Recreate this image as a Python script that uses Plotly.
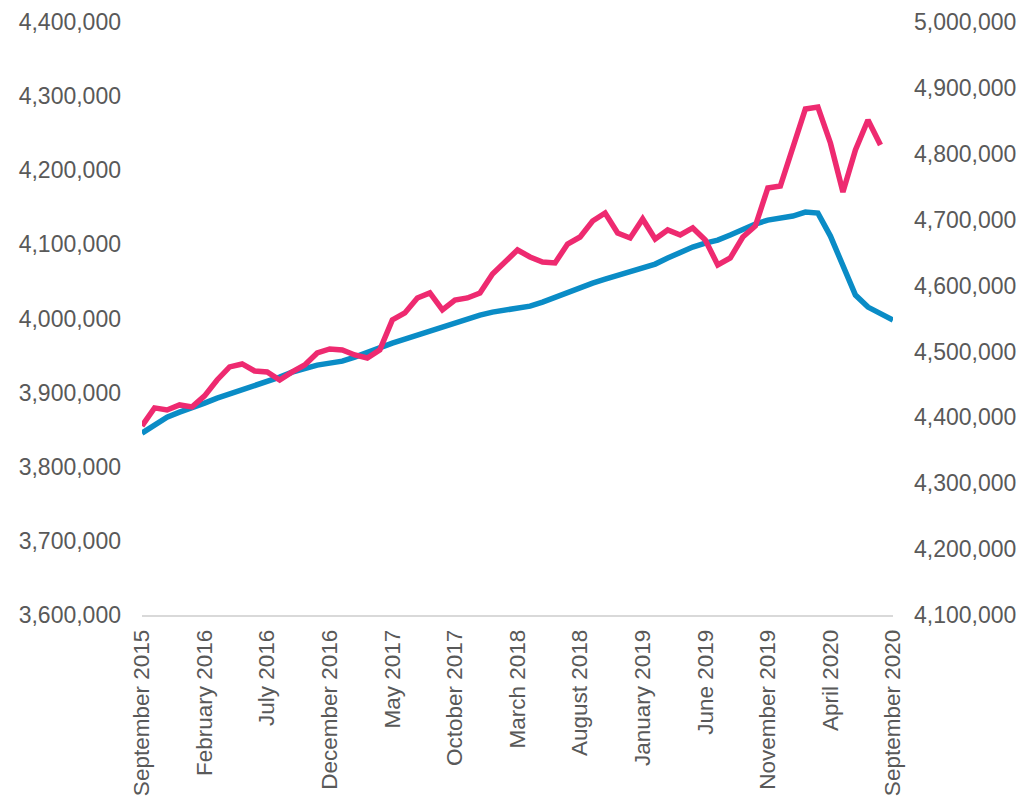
import pandas as pd
import plotly.graph_objects as go

# Monthly categories, September 2015 to September 2020
months = [d.strftime("%B %Y") for d in pd.date_range("2015-09-01", "2020-09-01", freq="MS")]
tick_labels = months[::5]

# Series plotted on the left axis (blue), one value per month
blue_values = [
    3845350, 3856150, 3866950, 3873700, 3879100, 3885850, 3892600, 3897990, 3903400, 3908800,
    3915500, 3920930, 3927700, 3933070, 3937100, 3939800, 3942500, 3947900, 3954700, 3961400,
    3966800, 3972200, 3977600, 3983000, 3988400, 3995150, 4000550, 4004600, 4008600, 4011300,
    4014000, 4016700, 4022100, 4028900, 4035600, 4042400, 4047800, 4053200, 4058600, 4064000,
    4068000, 4073400, 4081500, 4089600, 4096400, 4101800, 4105800, 4112600, 4120600, 4127400,
    4132800, 4135500, 4138200, 4143600, 4142200, 4111200, 4072100, 4031600, 4015400, 4006000,
    3997850,
]

# Series plotted on the right axis (pink), September 2015 to August 2020
pink_values = [
    4387000, 4414300, 4411200, 4418800, 4415800, 4432500, 4456750, 4476500, 4481000, 4470400,
    4468900, 4456700, 4468900, 4479500, 4497700, 4503800, 4502300, 4494700, 4490100, 4502300,
    4547800, 4558400, 4581200, 4588800, 4563000, 4578100, 4581200, 4588800, 4617600, 4635800,
    4654000, 4643400, 4635800, 4634300, 4663100, 4673700, 4698000, 4710200, 4679800, 4672200,
    4701100, 4670700, 4684400, 4676800, 4687400, 4669200, 4631300, 4641900, 4673700, 4690400,
    4748100, 4751100, 4808800, 4868000, 4871000, 4816400, 4742000, 4805800, 4851300, 4813400,
]

left_ticks = list(range(3600000, 4400001, 100000))
right_ticks = list(range(4100000, 5000001, 100000))

BLUE = "#0A8CC6"
PINK = "#EE2A70"
TEXT = "#595959"
FONT = "Liberation Sans, Arial, sans-serif"

fig = go.Figure()
fig.add_trace(go.Scatter(
    x=months, y=blue_values, mode="lines",
    line=dict(color=BLUE, width=5.5), yaxis="y", showlegend=False,
))
fig.add_trace(go.Scatter(
    x=months[:len(pink_values)], y=pink_values, mode="lines",
    line=dict(color=PINK, width=5.5), yaxis="y2", showlegend=False,
))

fig.update_layout(
    width=1030, height=806,
    margin=dict(l=142, r=137, t=22, b=191),
    paper_bgcolor="white", plot_bgcolor="white",
    font=dict(family=FONT, size=23, color=TEXT),
    xaxis=dict(
        type="category", range=[0, len(months) - 1], automargin=False,
        tickmode="array", tickvals=tick_labels, ticktext=tick_labels,
        tickangle=-90, ticks="", showgrid=False, zeroline=False,
        showline=True, linecolor="#D9D9D9", linewidth=1.5,
        ticklabelstandoff=4, tickfont=dict(size=22.5),
    ),
    yaxis=dict(
        range=[3600000, 4400000], tickmode="array", tickvals=left_ticks,
        tickformat=",d", showgrid=False, zeroline=False, showline=False,
        ticks="", ticklabelstandoff=20, automargin=False,
    ),
    yaxis2=dict(
        range=[4100000, 5000000], tickmode="array", tickvals=right_ticks,
        tickformat=",d", overlaying="y", side="right", showgrid=False,
        zeroline=False, showline=False, ticks="", ticklabelstandoff=20,
        automargin=False,
    ),
)

fig.write_html("out.html")
